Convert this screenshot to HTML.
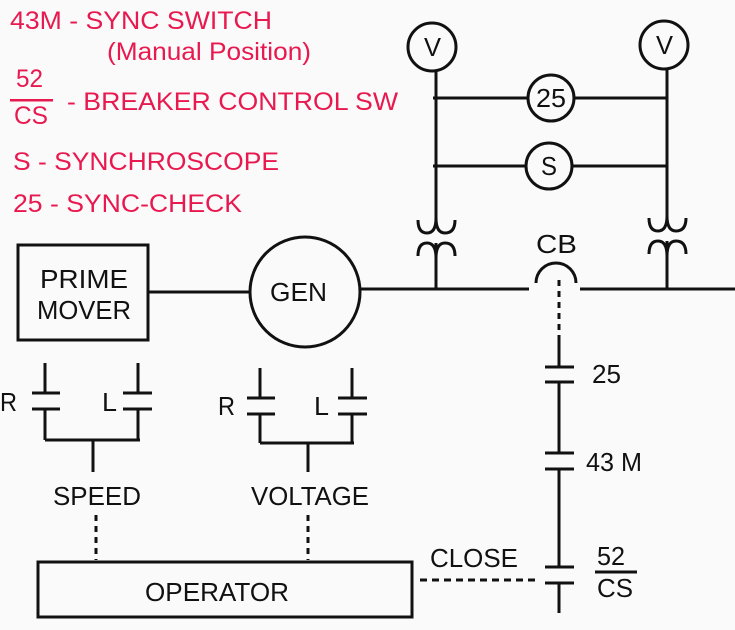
<!DOCTYPE html>
<html><head><meta charset="utf-8"><style>
html,body{margin:0;padding:0;background:#fafafa;}
svg{display:block;}
text{font-family:"Liberation Sans",Arial,sans-serif;}
.r{fill:#e8194f;font-size:25px;}
.k{fill:#111;font-size:26px;}
</style></head><body>
<svg width="735" height="630" viewBox="0 0 735 630" xmlns="http://www.w3.org/2000/svg">
<g>
<text x="10" y="29" textLength="262" lengthAdjust="spacingAndGlyphs" class="r">43M - SYNC SWITCH</text>
<text x="107" y="60" textLength="204" lengthAdjust="spacingAndGlyphs" class="r">(Manual Position)</text>
<text x="16" y="87" textLength="27" lengthAdjust="spacingAndGlyphs" class="r">52</text>
<rect x="10" y="99" width="43" height="2.5" fill="#e8194f"/>
<text x="14" y="124" textLength="34" lengthAdjust="spacingAndGlyphs" class="r">CS</text>
<text x="67" y="110" textLength="331" lengthAdjust="spacingAndGlyphs" class="r">- BREAKER CONTROL SW</text>
<text x="13" y="170" textLength="266" lengthAdjust="spacingAndGlyphs" class="r">S - SYNCHROSCOPE</text>
<text x="13" y="212" textLength="229" lengthAdjust="spacingAndGlyphs" class="r">25 - SYNC-CHECK</text>
</g>
<g stroke="#111" stroke-width="3" fill="none">
<circle cx="432" cy="47" r="24"/>
<circle cx="664" cy="45" r="24"/>
<line x1="436" y1="70" x2="436" y2="218"/>
<line x1="667" y1="69" x2="667" y2="218"/>
<line x1="433" y1="98" x2="528" y2="98"/>
<line x1="575" y1="98" x2="667" y2="98"/>
<circle cx="551" cy="98" r="23"/>
<line x1="433" y1="166" x2="526" y2="166"/>
<line x1="573" y1="166" x2="667" y2="166"/>
<circle cx="549" cy="166" r="23"/>
<path d="M418 220 Q418 233 427 233 Q436 233 436 218 Q436 233 445 233 Q455 233 455 220"/>
<path d="M418 256 Q418 243 427 243 Q436 243 436 258 Q436 243 445 243 Q455 243 455 256"/>
<line x1="436" y1="243" x2="436" y2="289"/>
<path d="M649 218 Q649 231 658 231 Q667 231 667 216 Q667 231 676 231 Q686 231 686 218"/>
<path d="M649 254 Q649 241 658 241 Q667 241 667 256 Q667 241 676 241 Q686 241 686 254"/>
<line x1="667" y1="241" x2="667" y2="289"/>
<line x1="360" y1="289" x2="529" y2="289"/>
<line x1="580" y1="289" x2="735" y2="289"/>
<path d="M536 283 A20 20 0 0 1 576 283"/>
<line x1="559" y1="280" x2="559" y2="340" stroke-dasharray="6,5"/>
<circle cx="305" cy="292" r="55"/>
<rect x="18" y="245" width="130" height="95"/>
<line x1="148" y1="292" x2="250" y2="292"/>
<line x1="45" y1="363" x2="45" y2="393"/>
<line x1="32" y1="393" x2="60" y2="393"/>
<line x1="32" y1="409" x2="60" y2="409"/>
<line x1="45" y1="409" x2="45" y2="440"/>
<line x1="138" y1="363" x2="138" y2="393"/>
<line x1="123" y1="393" x2="152" y2="393"/>
<line x1="123" y1="409" x2="152" y2="409"/>
<line x1="138" y1="409" x2="138" y2="440"/>
<line x1="45" y1="440" x2="140" y2="440"/>
<line x1="93" y1="440" x2="93" y2="472"/>
<line x1="96" y1="515" x2="96" y2="560" stroke-dasharray="6,5"/>
<line x1="260" y1="368" x2="260" y2="398"/>
<line x1="247" y1="398" x2="275" y2="398"/>
<line x1="247" y1="414" x2="275" y2="414"/>
<line x1="260" y1="414" x2="260" y2="443"/>
<line x1="352" y1="368" x2="352" y2="398"/>
<line x1="338" y1="398" x2="367" y2="398"/>
<line x1="338" y1="414" x2="367" y2="414"/>
<line x1="352" y1="414" x2="352" y2="443"/>
<line x1="260" y1="443" x2="354" y2="443"/>
<line x1="308" y1="443" x2="308" y2="472"/>
<line x1="308" y1="515" x2="308" y2="560" stroke-dasharray="6,5"/>
<rect x="38" y="562" width="374" height="55"/>
<line x1="420" y1="580" x2="535" y2="580" stroke-dasharray="7,5"/>
<line x1="559" y1="340" x2="559" y2="367"/>
<line x1="545" y1="367" x2="574" y2="367"/>
<line x1="545" y1="382" x2="574" y2="382"/>
<line x1="559" y1="382" x2="559" y2="453"/>
<line x1="545" y1="453" x2="574" y2="453"/>
<line x1="545" y1="469" x2="574" y2="469"/>
<line x1="559" y1="469" x2="559" y2="567"/>
<line x1="545" y1="567" x2="574" y2="567"/>
<line x1="545" y1="583" x2="574" y2="583"/>
<line x1="559" y1="583" x2="559" y2="613"/>
<line x1="595" y1="572" x2="637" y2="572"/>
</g>
<g>
<text x="424" y="56" textLength="17" lengthAdjust="spacingAndGlyphs" class="k">V</text>
<text x="656" y="54" textLength="17" lengthAdjust="spacingAndGlyphs" class="k">V</text>
<text x="536" y="107" textLength="30" lengthAdjust="spacingAndGlyphs" class="k">25</text>
<text x="541" y="175" textLength="16" lengthAdjust="spacingAndGlyphs" class="k">S</text>
<text x="536" y="253" textLength="41" lengthAdjust="spacingAndGlyphs" class="k">CB</text>
<text x="270" y="301" textLength="57" lengthAdjust="spacingAndGlyphs" class="k">GEN</text>
<text x="40" y="288" textLength="88" lengthAdjust="spacingAndGlyphs" class="k">PRIME</text>
<text x="37" y="319" textLength="94" lengthAdjust="spacingAndGlyphs" class="k">MOVER</text>
<text x="0" y="411" textLength="17" lengthAdjust="spacingAndGlyphs" class="k">R</text>
<text x="102" y="411" textLength="15" lengthAdjust="spacingAndGlyphs" class="k">L</text>
<text x="218" y="415" textLength="17" lengthAdjust="spacingAndGlyphs" class="k">R</text>
<text x="314" y="415" textLength="15" lengthAdjust="spacingAndGlyphs" class="k">L</text>
<text x="53" y="505" textLength="88" lengthAdjust="spacingAndGlyphs" class="k">SPEED</text>
<text x="251" y="505" textLength="118" lengthAdjust="spacingAndGlyphs" class="k">VOLTAGE</text>
<text x="145" y="601" textLength="144" lengthAdjust="spacingAndGlyphs" class="k">OPERATOR</text>
<text x="430" y="567" textLength="88" lengthAdjust="spacingAndGlyphs" class="k">CLOSE</text>
<text x="592" y="383" textLength="29" lengthAdjust="spacingAndGlyphs" class="k">25</text>
<text x="586" y="471" textLength="56" lengthAdjust="spacingAndGlyphs" class="k">43 M</text>
<text x="597" y="565" textLength="28" lengthAdjust="spacingAndGlyphs" class="k">52</text>
<text x="597" y="597" textLength="36" lengthAdjust="spacingAndGlyphs" class="k">CS</text>
</g>
</svg>
</body></html>
